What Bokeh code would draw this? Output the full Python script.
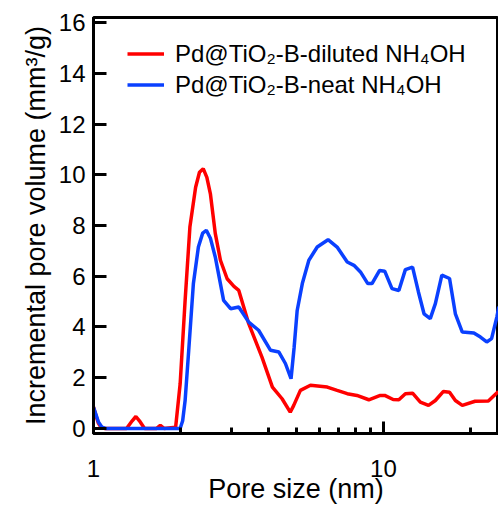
from bokeh.plotting import figure
from bokeh.models import Range1d, FixedTicker, Legend, LegendItem, PrintfTickFormatter
from bokeh.embed import file_html
from bokeh.resources import INLINE

# Pore size (nm) and incremental pore volume (mm^3/g)
diluted_size = [1.00, 1.02, 1.04, 1.06, 1.09, 1.30, 1.36, 1.40, 1.44, 1.50, 1.65, 1.70, 1.75,
                1.92, 1.99, 2.07, 2.15, 2.25, 2.32, 2.39, 2.46, 2.53, 2.63, 2.74, 2.89, 3.05,
                3.17, 3.43, 3.81, 4.14, 4.47, 4.77, 4.90, 5.17, 5.60, 6.40, 6.92, 7.50, 8.10,
                8.90, 9.75, 10.1, 10.8, 11.3, 11.9, 12.6, 13.4, 14.3, 15.1, 16.1, 16.9, 17.7,
                18.7, 20.7, 23.0, 24.9]
diluted_vol = [0.85, 0.50, 0.20, 0.05, 0.00, 0.00, 0.30, 0.47, 0.30, 0.00, 0.00, 0.12, 0.00,
               0.05, 1.76, 5.05, 7.94, 9.51, 10.10, 10.24, 9.90, 9.25, 7.69, 6.63, 5.90, 5.60,
               5.44, 4.13, 2.81, 1.63, 1.17, 0.64, 0.90, 1.50, 1.70, 1.63, 1.50, 1.37, 1.30,
               1.13, 1.30, 1.30, 1.14, 1.13, 1.37, 1.39, 1.04, 0.91, 1.10, 1.46, 1.43, 1.10,
               0.91, 1.07, 1.08, 1.45]

neat_size = [1.00, 1.02, 1.04, 1.07, 1.10, 1.99, 2.03, 2.07, 2.13, 2.21, 2.30, 2.38, 2.45,
             2.53, 2.63, 2.81, 2.97, 3.17, 3.43, 3.71, 4.08, 4.36, 4.59, 4.80, 4.92, 5.04,
             5.25, 5.53, 5.91, 6.44, 6.92, 7.50, 7.91, 8.33, 8.83, 9.13, 9.70, 10.1, 10.7,
             11.3, 11.9, 12.6, 13.2, 13.8, 14.5, 15.1, 15.9, 16.9, 17.7, 18.7, 20.5, 21.6,
             22.7, 23.6, 24.6, 25.0]
neat_vol = [0.83, 0.55, 0.25, 0.05, 0.00, 0.00, 0.30, 1.10, 3.08, 5.70, 7.15, 7.70, 7.81,
            7.50, 6.76, 5.05, 4.72, 4.79, 4.19, 3.87, 3.08, 3.01, 2.56, 1.96, 3.20, 4.65,
            5.71, 6.63, 7.15, 7.44, 7.15, 6.56, 6.43, 6.17, 5.71, 5.71, 6.23, 6.20, 5.51,
            5.44, 6.26, 6.36, 5.38, 4.52, 4.33, 4.92, 6.04, 5.91, 4.52, 3.80, 3.76, 3.60,
            3.41, 3.54, 4.39, 4.80]

x_major = [1, 10]
x_minor = [2, 3, 4, 5, 6, 7, 8, 9, 20]
y_ticks = [0, 2, 4, 6, 8, 10, 12, 14, 16]

label_diluted = "Pd@TiO\u2082-B-diluted NH\u2084OH"
label_neat = "Pd@TiO\u2082-B-neat NH\u2084OH"

FONT = "Liberation Sans"

p = figure(width=498, height=506, x_axis_type="log",
           x_range=Range1d(1, 24.93), y_range=Range1d(-0.2, 16.2),
           output_backend="svg", toolbar_location=None,
           min_border_left=93, min_border_right=0, min_border_top=17, min_border_bottom=73)

p.grid.visible = False
p.background_fill_color = "white"
p.border_fill_color = "white"
p.outline_line_color = "black"
p.outline_line_width = 3

r1 = p.line(diluted_size, diluted_vol, line_color="#ff0000", line_width=3.5)
r2 = p.line(neat_size, neat_vol, line_color="#0a40ff", line_width=3.5)

xa = p.xaxis[0]
xa.ticker = FixedTicker(ticks=x_major, minor_ticks=x_minor)
xa.formatter = PrintfTickFormatter(format="%d")
xa.axis_label = "Pore size (nm)"
ya = p.yaxis[0]
ya.ticker = FixedTicker(ticks=y_ticks, minor_ticks=[])
ya.axis_label = "Incremental pore volume (mm\u00b3/g)"

for ax in (xa, ya):
    ax.axis_line_width = 3
    ax.axis_line_color = "black"
    ax.major_tick_line_width = 3
    ax.minor_tick_line_width = 3
    ax.major_tick_out = 0
    ax.minor_tick_out = 0
    ax.major_label_text_font = FONT
    ax.major_label_text_font_size = "24px"
    ax.major_label_text_color = "black"
    ax.axis_label_text_font = FONT
    ax.axis_label_text_font_size = "27px"
    ax.axis_label_text_font_style = "normal"
    ax.axis_label_text_color = "black"

xa.major_tick_in = 12
xa.minor_tick_in = 6
xa.major_label_standoff = 26
xa.axis_label_standoff = -6
ya.major_tick_in = 13
ya.minor_tick_in = 0
ya.major_label_standoff = 8
ya.axis_label_standoff = 5

legend = Legend(items=[LegendItem(label=label_diluted, renderers=[r1]),
                       LegendItem(label=label_neat, renderers=[r2])],
                location=(34, 333), orientation="vertical")
legend.border_line_color = None
legend.background_fill_alpha = 0
legend.padding = 0
legend.margin = 0
legend.spacing = 0
legend.glyph_width = 37
legend.glyph_height = 31
legend.label_height = 31
legend.label_standoff = 11
legend.label_text_font = FONT
legend.label_text_font_size = "24px"
legend.label_text_color = "black"
p.add_layout(legend)

open("out.html", "w").write(file_html(p, INLINE))
